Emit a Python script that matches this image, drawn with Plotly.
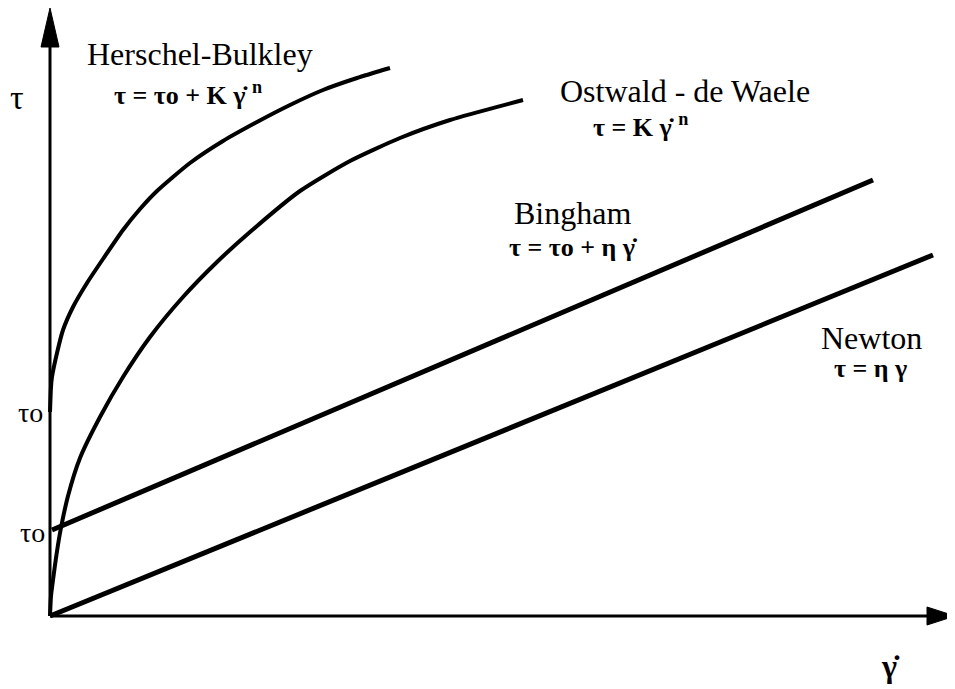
import plotly.graph_objects as go

# shear rate / shear stress, in picture units (origin at the axes corner)
newton_x = [0, 883]
newton_y = [0, 361]

bingham_x = [2, 823]
bingham_y = [86, 436]

ostwald_x = [0, 1, 3, 6, 10, 18, 30, 50, 73, 100, 133, 167, 200, 250, 300, 350, 400, 473]
ostwald_y = [0, 20, 36, 58, 83, 120, 158, 199, 239, 279, 319, 354, 384, 425, 455, 478, 496, 516]

hb_x = [0, 1, 2, 7, 13, 23, 37, 53, 73, 90, 107, 140, 173, 207, 240, 273, 307, 340]
hb_y = [204, 229, 239, 263, 286, 309, 333, 357, 386, 407, 425, 453, 475, 494, 511, 526, 538, 548]

SERIF = "Liberation Serif"

fig = go.Figure()

fig.add_trace(go.Scatter(x=newton_x, y=newton_y, mode="lines",
                         line=dict(color="black", width=5)))
fig.add_trace(go.Scatter(x=bingham_x, y=bingham_y, mode="lines",
                         line=dict(color="black", width=5)))
fig.add_trace(go.Scatter(x=ostwald_x, y=ostwald_y, mode="lines",
                         line=dict(color="black", width=4, shape="spline", smoothing=0.6)))
fig.add_trace(go.Scatter(x=hb_x, y=hb_y, mode="lines",
                         line=dict(color="black", width=4, shape="spline", smoothing=0.6)))

# axes with arrow heads
shapes = [
    dict(type="line", x0=0, y0=0, x1=0, y1=572, line=dict(color="black", width=3)),
    dict(type="line", x0=0, y0=0, x1=880, y1=0, line=dict(color="black", width=3)),
    dict(type="path", path="M -9,569 L 0,608 L 9,569 Z",
         fillcolor="black", line=dict(color="black", width=1)),
    dict(type="path", path="M 877,-9 L 905,0 L 877,9 Z",
         fillcolor="black", line=dict(color="black", width=1)),
]


def label(x, y, text, size, bold=False):
    if bold:
        text = "<b>" + text + "</b>"
    fig.add_annotation(x=x, y=y, text=text, showarrow=False,
                       font=dict(family=SERIF, size=size, color="black"))


label(150, 562, "Herschel-Bulkley", 32)
label(138, 523, "τ = τo + K γ̇ <sup>n</sup>", 26, bold=True)
label(635, 525, "Ostwald - de Waele", 32)
label(590, 491, "τ = K γ̇ <sup>n</sup>", 26, bold=True)
label(522, 403, "Bingham", 32)
label(523, 369, "τ = τo + η γ̇", 26, bold=True)
label(821, 278, "Newton", 32)
label(820, 248, "τ = η γ", 26, bold=True)

label(-33, 519, "τ", 34)
label(-20, 204, "τo", 28)
label(-18, 84, "τo", 28)
label(840, -50, "γ̇", 32, bold=True)

fig.update_layout(
    width=955, height=689, autosize=False,
    margin=dict(l=0, r=0, t=0, b=0),
    paper_bgcolor="white", plot_bgcolor="white",
    showlegend=False,
    shapes=shapes,
    xaxis=dict(range=[-42, 913], visible=False, fixedrange=True),
    yaxis=dict(range=[-81, 608], visible=False, fixedrange=True),
)

fig.write_html("out.html")
